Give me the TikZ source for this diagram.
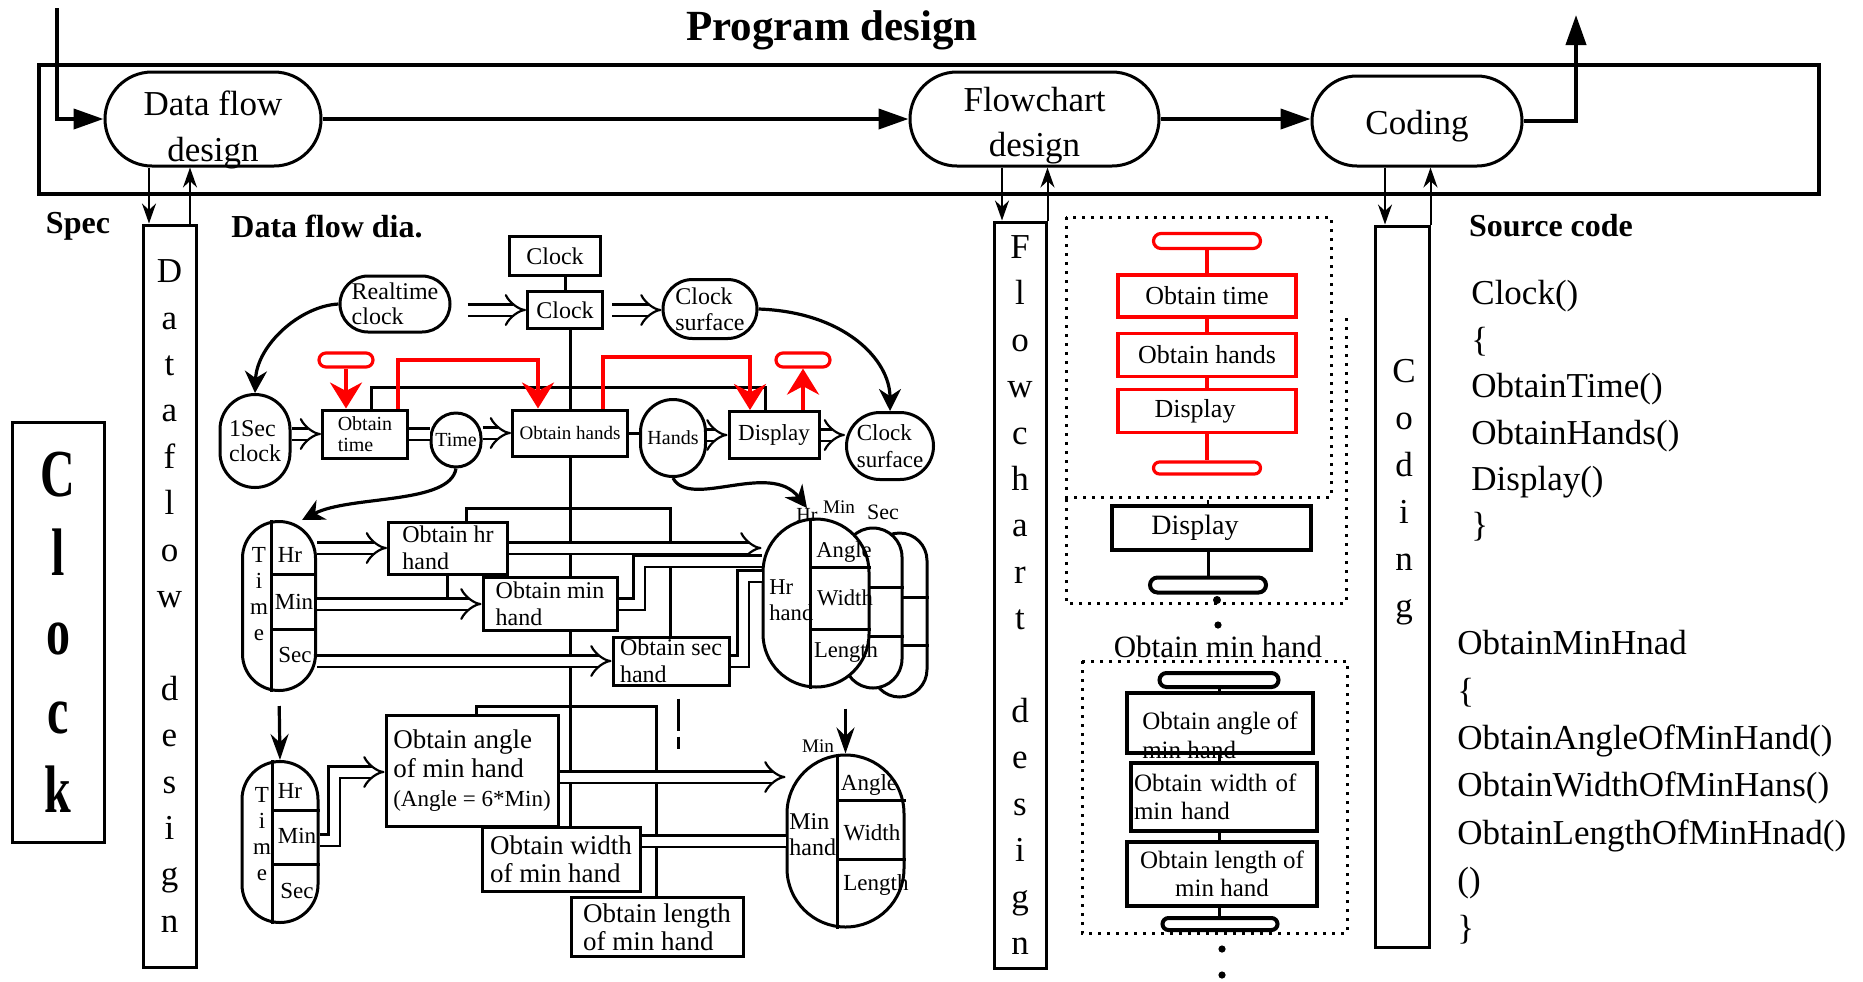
\documentclass[tikz,border=0pt]{standalone}
\usepackage{fontspec}
\setmainfont{Liberation Serif}
\usepackage{graphicx}
\usetikzlibrary{arrows.meta}
\newcommand\setfs[2]{\fontsize{#1pt}{#2pt}\selectfont}
\tikzset{
  stadnode/.style={draw, line width=1.5pt, rounded corners=#1, inner sep=0.5pt, align=center},
  stadnode/.default=10pt,
  procbox/.style={draw, line width=1.5pt, fill=white, inner sep=0.5pt, align=center},
  redbox/.style={draw=red, line width=1.6pt, inner sep=0.5pt, align=center},
  colbox/.style={draw, line width=1.5pt, inner sep=0pt, align=center},
  flowarrow/.style={line width=2pt, -{Triangle[length=15pt,width=10pt]}},
  thinarrow/.style={line width=1pt, -{Stealth[length=10pt,width=7pt]}},
  vertarrow/.style={line width=1.6pt, -{Stealth[length=13pt,width=9pt]}},
  link/.style={line width=1.5pt},
  dblarrow/.style={line width=1.1pt, double distance=4.5pt, -{Implies[scale=1.2]}},
  dblline/.style={line width=1.1pt, double distance=4.5pt},
  redarrow/.style={draw=red, line width=1.8pt, -{Stealth[length=13pt,width=16pt]}},
  bentarrow/.style={line width=1.6pt, -{Stealth[length=11pt,width=11pt]}},
  dotline/.style={line width=1.5pt, dash pattern=on 1.5pt off 3pt},
  boldlabel/.style={font=\bfseries\setfs{16}{19}},
}

\begin{document}
\begin{tikzpicture}[x=0.5pt, y=-0.5pt]
\useasboundingbox (0,0) rectangle (1863,981);

% program design frame
\node[font=\bfseries\setfs{21.5}{24}] (title) at (832,30) {Program design};
\node[draw, line width=2pt, minimum width=890pt, minimum height=64.5pt] (frame) at (929,129.5) {};
\node[stadnode=23.5pt, minimum width=108pt, minimum height=47pt, label={[font=\setfs{17.5}{23}, align=center, yshift=-5.5pt]center:{Data flow\\design}}] (dfd) at (213,119) {};
\node[stadnode=23.5pt, minimum width=124.5pt, minimum height=47pt, font=\setfs{17.5}{22.5}] (fcd) at (1034.5,119) {\rule{0pt}{19pt}Flowchart\\design};
\node[stadnode=22.5pt, minimum width=105pt, minimum height=45pt, font=\setfs{17.5}{23}] (cod) at (1417,121) {\rule{0pt}{17pt}Coding};
\coordinate (start) at (57,8);
\coordinate (finish) at (1576,15);
\draw[flowarrow] (start) |- (dfd.west);
\draw[flowarrow] (dfd) -- (fcd);
\draw[flowarrow] (fcd.east) -- (cod.west |- fcd.east);
\draw[flowarrow] (cod.east) -| (finish);

% design columns
\node[colbox, minimum width=26.5pt, minimum height=371pt, font=\setfs{17.5}{23.2}] (colDF) at (169.5,596) {D\\a\\t\\a\\f\\l\\o\\w\\[23.2pt]d\\e\\s\\i\\g\\n};
\node[colbox, minimum width=26pt, minimum height=373pt, font=\setfs{17.5}{23.2}] (colFC) at (1020,595) {F\\l\\o\\w\\c\\h\\a\\r\\t\\[23.2pt]d\\e\\s\\i\\g\\n};
\node[colbox, minimum width=27pt, minimum height=360.5pt] (colCO) at (1402,586.5) {};
\node[font=\setfs{17.5}{23.5}, align=center] (codtxt) at (1404,492) {C\\o\\d\\i\\n\\g};
\draw[thinarrow] (dfd.south -| 149,0) -- (colDF.north -| 149,0);
\draw[thinarrow] (colDF.north -| 190,0) -- (dfd.south -| 190,0);
\draw[thinarrow] (fcd.south -| 1002,0) -- (colFC.north -| 1002,0);
\draw[thinarrow] (colFC.north east) -- (fcd.south -| colFC.north east);
\draw[thinarrow] (cod.south -| 1385,0) -- (colCO.north -| 1385,0);
\draw[thinarrow] (colCO.north east) -- (cod.south -| colCO.north east);

\node[colbox, minimum width=46pt, minimum height=210pt] (clockbox) at (58,632) {\scalebox{1}[1.4]{\parbox{24pt}{\centering\bfseries\setfs{24}{28.2}C\\l\\o\\c\\k}}};
\node[boldlabel] (spec) at (78,226) {Spec};
\node[boldlabel] (dfdia) at (327,226) {Data flow dia.};
\node[boldlabel] (srccode) at (1551,226) {Source code};

% source code
\node[anchor=west, align=left, inner sep=0, font=\setfs{17.5}{23.2}] (code1) at (1471,411) {Clock()\\\{\\ObtainTime()\\ObtainHands()\\Display()\\\}};
\node[anchor=west, align=left, inner sep=0, font=\setfs{17.5}{23.7}] (code2) at (1457,787) {ObtainMinHnad\\\{\\ObtainAngleOfMinHand()\\ObtainWidthOfMinHans()\\ObtainLengthOfMinHnad()\\()\\\}};

% data flow diagram: clock level
\node[procbox, minimum width=45.5pt, minimum height=19.5pt, font=\setfs{12}{13}] (ctop) at (555,256) {Clock};
\node[procbox, minimum width=37.5pt, minimum height=18.5pt, font=\setfs{12}{13}] (cbox) at (565,310) {Clock};
\node[stadnode=14pt, align=left, minimum width=55pt, minimum height=28pt, font=\setfs{12}{12.5}] (rtc) at (395,304) {Realtime\\clock};
\node[stadnode=14.75pt, align=left, minimum width=47pt, minimum height=29.5pt, font=\setfs{12}{13}] (csurf1) at (710,309) {Clock\\surface};
\node[stadnode=17.5pt, align=left, minimum width=35pt, minimum height=46.5pt, font=\setfs{12}{12.5}] (sec1) at (255,441) {1Sec\\clock};
\node[procbox, align=left, minimum width=42.5pt, minimum height=24pt, font=\setfs{10}{10.5}] (otime) at (365,434) {Obtain\\time};
\node[stadnode=12.5pt, minimum width=25pt, minimum height=27pt, font=\setfs{10}{11}] (time1) at (456,440) {Time};
\node[procbox, minimum width=57.5pt, minimum height=23pt, font=\setfs{9.5}{11}] (ohands) at (570,433) {Obtain hands};
\node[stadnode=16.25pt, minimum width=32.5pt, minimum height=38.5pt, font=\setfs{10}{11}] (hands) at (673,438) {Hands};
\node[procbox, minimum width=45pt, minimum height=23.5pt, font=\setfs{11.5}{13}] (disp) at (774,435) {Display};
\node[stadnode=16.75pt, align=left, minimum width=43.5pt, minimum height=33.5pt, font=\setfs{11.5}{13.5}] (csurf2) at (890,446) {Clock\\surface};
\node[draw=red, line width=1.6pt, rounded corners=3.5pt, minimum width=27pt, minimum height=7pt, inner sep=0] (rterm1) at (346,360) {};
\node[draw=red, line width=1.6pt, rounded corners=3.5pt, minimum width=27pt, minimum height=7pt, inner sep=0] (rterm2) at (803,360) {};

% data flow diagram: hands level
\node[stadnode=18.25pt, minimum width=36.5pt, minimum height=84.5pt] (tA) at (279,606) {};
\draw[link] ([xshift=-4pt]tA.north) -- ([xshift=-4pt]tA.south);
\draw[link] (271,574) -- (tA.east |- 0,574);
\draw[link] (271,629) -- (tA.east |- 0,629);
\node[font=\setfs{11.5}{13}, align=center, inner sep=0] (tAlet) at (259,594) {T\\i\\m\\e};
\node[font=\setfs{11.5}{13}, inner sep=0] (tAhr) at (290,555) {Hr};
\node[font=\setfs{11.5}{13}, inner sep=0] (tAmin) at (294,602) {Min};
\node[font=\setfs{11.5}{13}, inner sep=0] (tAsec) at (295,655) {Sec};

\node[procbox, align=left, minimum width=59.5pt, minimum height=26pt, font=\setfs{12}{13.5}] (ohr) at (448,548) {Obtain hr\\hand};
\node[procbox, align=left, minimum width=67pt, minimum height=26.5pt, font=\setfs{12}{13.5}] (omin) at (550,604) {Obtain min\\hand};
\node[procbox, align=left, minimum width=58pt, minimum height=24pt, font=\setfs{12}{13.5}] (osec) at (671,661) {Obtain sec\\hand};

\node[stadnode=13.75pt, fill=white, minimum width=27.5pt, minimum height=82pt] (hrC) at (899.5,615) {};
\draw[link] (hrC.west |- 0,597) -- (hrC.east |- 0,597);
\draw[link] (hrC.west |- 0,645) -- (hrC.east |- 0,645);
\node[stadnode=14.5pt, fill=white, minimum width=29pt, minimum height=80pt] (hrB) at (873,608) {};
\draw[link] (hrB.west |- 0,587) -- (hrB.east |- 0,587);
\draw[link] (hrB.west |- 0,636) -- (hrB.east |- 0,636);
\node[stadnode=26.5pt, fill=white, minimum width=53pt, minimum height=84pt] (hrA) at (816,603) {};
\draw[link] ([xshift=-3pt]hrA.north) -- ([xshift=-3pt]hrA.south);
\draw[link] (810,567) -- (hrA.east |- 0,567);
\draw[link] (810,629) -- (hrA.east |- 0,629);
\node[font=\setfs{11.3}{13}, inner sep=0] (hrang) at (844,552) {Angle};
\node[font=\setfs{11.3}{13}, inner sep=0] (hrwid) at (845,598) {Width};
\node[font=\setfs{11.3}{13}, inner sep=0] (hrlen) at (846,652) {Length};
\node[anchor=west, align=left, font=\setfs{11.3}{13}, inner sep=0] (hrname) at (769,600) {Hr\\hand};
\node[font=\setfs{10}{11}, inner sep=0] (hrlab) at (807,515) {Hr};
\node[font=\setfs{9.6}{11}, inner sep=0] (minlab) at (839,507) {Min};
\node[font=\setfs{11}{12}, inner sep=0] (seclab) at (883,512) {Sec};

% data flow diagram: minute hand level
\node[stadnode=19pt, minimum width=38pt, minimum height=80.5pt] (tB) at (280,842) {};
\draw[link] ([xshift=-4pt]tB.north) -- ([xshift=-4pt]tB.south);
\draw[link] (272,810) -- (tB.east |- 0,810);
\draw[link] (272,864) -- (tB.east |- 0,864);
\node[font=\setfs{11.5}{13}, align=center, inner sep=0] (tBlet) at (262,834) {T\\i\\m\\e};
\node[font=\setfs{11.5}{13}, inner sep=0] (tBhr) at (290,791) {Hr};
\node[font=\setfs{11.5}{13}, inner sep=0] (tBmin) at (297,836) {Min};
\node[font=\setfs{11.5}{13}, inner sep=0] (tBsec) at (297,891) {Sec};

\node[procbox, align=left, minimum width=86pt, minimum height=55.5pt, font=\setfs{13.5}{14.5}] (oangle) at (472,771) {Obtain angle\\of min hand\\{\setfs{11.5}{14.5}(Angle = 6*Min)}};
\node[procbox, align=left, minimum width=79pt, minimum height=32pt, font=\setfs{13.5}{14}] (owidth) at (561,859) {Obtain width\\of min hand};
\node[procbox, align=left, minimum width=86pt, minimum height=29.5pt, font=\setfs{13.5}{14}] (olength) at (657,927) {Obtain length\\of min hand};

\node[stadnode=29.25pt, minimum width=58.5pt, minimum height=86pt] (mA) at (845.5,841) {};
\draw[link] ([xshift=-4.25pt]mA.north) -- ([xshift=-4.25pt]mA.south);
\draw[link] (837,800) -- (mA.east |- 0,800);
\draw[link] (837,859) -- (mA.east |- 0,859);
\node[font=\setfs{11.5}{13}, inner sep=0] (mang) at (869,785) {Angle};
\node[font=\setfs{11.5}{13}, inner sep=0] (mwid) at (872,833) {Width};
\node[font=\setfs{11.5}{13}, inner sep=0] (mlen) at (876,885) {Length};
\node[anchor=west, align=left, font=\setfs{12}{13}, inner sep=0] (mname) at (789,835) {Min\\hand};
\node[font=\setfs{9.6}{11}, inner sep=0] (mlab) at (818,746) {Min};

% data flow connectors
\draw[link] (ctop.south -| cbox.north) -- (cbox.north);
\draw[link] (cbox.south -| ohands.north) -- (ohands.north);
\draw[link] (ohands.south) -- (ohands.south |- omin.north);
\draw[link] (ohands.south |- omin.south) -- (ohands.south |- owidth.north);
\draw[dblarrow] (rtc.east |- cbox.west) ++(16,0) -- (cbox.west);
\draw[dblarrow] (cbox.east) ++(8,0) -- (csurf1.west |- cbox.east);
\draw[dblarrow] (sec1.east |- otime.west) -- (otime.west);
\draw[dblline] (otime.east) -- (time1.west |- otime.east);
\draw[dblarrow] (time1.east |- ohands.west) -- (ohands.west);
\draw[link] (ohands.east) -- (hands.west |- ohands.east);
\draw[dblarrow] (hands.east |- disp.west) -- (disp.west);
\draw[dblarrow] (disp.east) -- (csurf2.west |- disp.east);
\draw[bentarrow] (rtc.west) .. controls (300,306) and (257,345) .. (sec1.north);
\draw[bentarrow] (csurf1.east) .. controls (845,312) and (890,360) .. (csurf2.north);
\draw[bentarrow] (time1.south) .. controls (450,505) and (350,495) .. (tA.75);
\draw[bentarrow] (hands.south) .. controls (690,510) and (770,460) .. (hrlab.north);

\draw[link] (otime.north -| 371,0) |- (765,387) -- (disp.north -| 765,0);
\draw[redarrow] (rterm1) -- (rterm1 |- otime.north);
\draw[redarrow] (otime.north -| 398,0) |- (538,360) -- (ohands.north -| 538,0);
\draw[redarrow] (ohands.north -| 603,0) |- (750,357) -- (disp.north -| 750,0);
\draw[redarrow] (rterm2 |- disp.north) -- (rterm2);

\draw[link] (ohr.north -| 466,0) |- (670,508) -- (osec.north -| 670,0);
\draw[link] (ohr.south -| 447,0) -- (447,600);
\draw[dblarrow] (tA.east |- ohr.west) -- (ohr.west);
\draw[dblarrow] (tA.east |- omin.west) -- (omin.west);
\draw[dblarrow] (tA.east |- osec.west) -- (osec.west);
\draw[dblarrow] (ohr.east) -- (hrA.west |- ohr.east);
\draw[dblline] (omin.east) -- (639,604) |- (hrA.west |- 0,561);
\draw[dblline] (osec.east) -- (743,661) |- (hrA.west |- 0,576);
\draw[link, dash pattern=on 16pt off 3pt on 6pt off 30pt] (osec.south -| 678,0) ++(0,12) -- ++(0,51);

\draw[vertarrow, shorten <=7pt] (tA.south) -- (tB.north);
\draw[vertarrow, shorten <=5pt] (mA.north |- hrC.south) -- (mA.north);
\draw[link] (oangle.north -| 476,0) |- (656,706) -- (olength.north -| 656,0);
\draw[dblarrow] (tB.east |- 0,840) -| (334,772) -- (oangle.west |- 0,772);
\draw[dblarrow] (oangle.east |- 0,777) -- (mA.west |- 0,777);
\draw[dblline] (owidth.east |- 0,841) -- (mA.west |- 0,841);

% flowchart
\draw[dotline] (1066,217) rectangle (1331,497);
\draw[dotline] (1346,318) -- (1346,603) -- (1066,603) -- (1066,497);
\node[draw=red, line width=1.6pt, rounded corners=3.75pt, minimum width=53.5pt, minimum height=7.5pt, inner sep=0] (rstart) at (1207,241) {};
\node[redbox, minimum width=89pt, minimum height=21pt, font=\setfs{13}{15}] (rtime) at (1207,296) {Obtain time};
\node[redbox, minimum width=89pt, minimum height=21.5pt, font=\setfs{13}{15}] (rhands) at (1207,355) {Obtain hands};
\node[redbox, minimum width=89pt, minimum height=21.5pt, font=\setfs{13}{15}] (rdisp) at (1207,411) {\makebox[52.4pt][l]{Display}};
\node[draw=red, line width=1.6pt, rounded corners=3pt, minimum width=53.5pt, minimum height=6pt, inner sep=0] (rend) at (1207,468) {};
\draw[red, line width=1.6pt] (rstart) -- (rtime) -- (rhands) -- (rdisp) -- (rend);

\node[procbox, line width=2pt, minimum width=99.5pt, minimum height=22pt, font=\setfs{14}{16}] (bdisp) at (1211,528) {\makebox[59.6pt][l]{Display}};
\node[draw, line width=2pt, rounded corners=3.75pt, minimum width=58pt, minimum height=7.5pt, inner sep=0] (bend) at (1208,585) {};
\draw[line width=1.5pt] (bdisp.south -| bend.north) -- (bend.north);
\draw[line width=1pt, dash pattern=on 2pt off 2pt] (bdisp.north -| 1208,0) -- (1208,497);
\fill (1217,600) circle (2pt);
\fill (1218,625) circle (1.8pt);
\node[font=\setfs{15.5}{17}] (minhd) at (1218,647) {Obtain min hand};
\draw[dotline] (1082,661) rectangle (1347,933);
\node[draw, line width=2pt, rounded corners=3.5pt, minimum width=59.5pt, minimum height=7pt, inner sep=0] (mstart) at (1219,680) {};
\node[procbox, line width=2pt, minimum width=93pt, minimum height=30pt, label={[font=\setfs{12.5}{14.5}, align=left, yshift=-6pt]center:{Obtain angle of\\min hand}}] (fangle) at (1220,723) {};
\node[procbox, line width=2pt, minimum width=93pt, minimum height=34pt, font=\setfs{12.5}{14}, align=left, text width=90pt] (fwidth) at (1224,797) {Obtain width of\\min hand};
\node[procbox, line width=2pt, minimum width=95pt, minimum height=32pt, font=\setfs{12.5}{14}] (flength) at (1222,874) {Obtain length of\\min hand};
\node[draw, line width=2pt, rounded corners=3pt, minimum width=57.5pt, minimum height=6pt, inner sep=0] (mend) at (1220,924) {};
\draw[line width=1.5pt] (mstart.south) -- (mstart.south |- fangle.north);
\draw[line width=1.5pt] (mstart.south |- fangle.south) -- (mstart.south |- fwidth.north);
\draw[line width=1.5pt] (mstart.south |- fwidth.south) -- (mstart.south |- flength.north);
\draw[line width=1.5pt] (mstart.south |- flength.south) -- (mstart.south |- mend.north);
\fill (1222,949) circle (1.8pt);
\fill (1222,975) circle (1.8pt);
\end{tikzpicture}
\end{document}
